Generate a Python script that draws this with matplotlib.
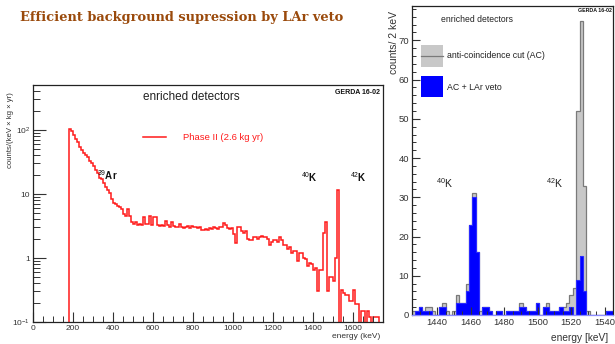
import numpy as np
import matplotlib
matplotlib.use("Agg")
import matplotlib.pyplot as plt
from matplotlib.lines import Line2D
from matplotlib.patches import Rectangle
from matplotlib.ticker import FixedLocator, MultipleLocator, LogLocator, NullFormatter

plt.rcParams['font.family'] = ['Liberation Sans', 'DejaVu Sans']
plt.rcParams['mathtext.fontset'] = 'custom'
plt.rcParams['mathtext.rm'] = 'Liberation Sans'
plt.rcParams['mathtext.it'] = 'Liberation Sans:italic'
plt.rcParams['mathtext.bf'] = 'Liberation Sans:bold'

# ---- Phase II spectrum: rate per 10 keV bin, starting at 180 keV ----
phase2_start = 180
phase2_width = 10
phase2_rate = [
    104, 95, 85, 72, 64, 55, 49, 44, 41, 38,          # 180-270
    33, 30, 27, 24, 21, 18, 17, 15, 13, 11.7,         # 280-370
    10.5, 8.5, 7.2, 7.0, 6.6, 6.2, 5.8, 4.8, 4.6, 5.8,  # 380-470
    4.5, 3.6, 3.4, 3.6, 3.3, 3.4, 3.3, 4.3, 3.4, 3.4,   # 480-570
    4.6, 3.3, 4.4, 4.4, 3.3, 3.2, 3.3, 3.2, 3.8, 3.3,   # 580-670
    3.1, 3.6, 3.2, 3.1, 3.0, 3.4, 3.0, 2.9, 3.1, 3.2,   # 680-770
    2.9, 3.2, 3.0, 3.1, 2.9, 3.0, 2.7, 2.7, 2.8, 2.7,   # 780-870
    2.9, 2.8, 3.0, 2.9, 2.8, 3.0, 3.1, 3.5, 3.3, 2.9,   # 880-970
    2.8, 2.9, 2.4, 1.7, 3.0, 3.0, 2.6, 2.5, 2.6, 2.0,   # 980-1070
    1.9, 1.9, 2.1, 2.1, 2.0, 2.1, 2.2, 2.1, 2.1, 2.0,   # 1080-1170
    1.6, 1.8, 1.9, 1.9, 1.8, 2.1, 1.9, 1.6, 1.6, 1.4,   # 1180-1270
    1.5, 1.2, 1.3, 1.3, 0.9, 1.2, 1.2, 1.0, 0.95, 0.75,  # 1280-1370
    0.85, 0.8, 0.65, 0.7, 0.3, 0.66, 0.66, 2.5, 3.6, 0.3,  # 1380-1470
    0.5, 0.5, 0.43, 1.0, 11.7, 0, 0.32, 0.28, 0.26, 0.26,  # 1480-1570
    0.21, 0.21, 0.32, 0.19, 0.19, 0, 0.15, 0.15, 0, 0.15,  # 1580-1670
    0.12, 0, 0.12, 0.12, 0.12, 0,                          # 1680-1730
]

# ---- 40K / 42K region: counts per 2 keV bin, starting at 1425 keV ----
roi_start = 1425
roi_width = 2
ac_counts = [
    1, 1, 2, 1, 2, 2, 1, 0, 2, 3,        # 1425-1443
    1, 0, 1, 5, 3, 3, 8, 23, 31, 16,     # 1445-1463
    1, 2, 2, 1, 0, 1, 1, 0, 1, 1,        # 1465-1483
    1, 1, 3, 2, 1, 1, 1, 3, 0, 2,        # 1485-1503
    3, 1, 1, 1, 2, 2, 3, 5, 7, 52,       # 1505-1523
    75, 33, 1, 0, 0, 0, 0, 0, 1, 1,      # 1525-1543
]
lar_counts = [
    0, 1, 2, 1, 1, 1, 0, 0, 2, 2,
    0, 0, 0, 3, 3, 3, 6, 23, 30, 16,
    0, 2, 2, 1, 0, 1, 1, 0, 1, 1,
    1, 1, 2, 2, 1, 1, 1, 3, 0, 2,
    2, 1, 1, 1, 2, 1, 1, 2, 0, 9,
    15, 6, 0, 0, 0, 0, 0, 0, 1, 1,
]

W, H = 615, 344
fig = plt.figure(figsize=(W / 100, H / 100), dpi=100)
fig.patch.set_facecolor('white')


def fx(px):
    return px / W


def fy(py):
    return 1 - py / H


title_color = '#9a4a0c'
fig.text(fx(20), fy(17), "Efficient background supression by LAr veto",
         family='DejaVu Serif', fontweight='bold', fontsize=9.4,
         color=title_color, va='center', ha='left')

# ================= left: full Phase II spectrum =================
axL = fig.add_axes([fx(33), fy(322), fx(382.5) - fx(33), fy(85) - fy(322)])
edgesL = np.concatenate([[0], phase2_start + phase2_width * np.arange(len(phase2_rate) + 1)])
valsL = np.concatenate([[0], phase2_rate])
axL.set_yscale('log', nonpositive='clip')
axL.stairs(valsL, edgesL, baseline=None, color='#ff1a1a', lw=1.1)
axL.set_xlim(0, 1750)
axL.set_ylim(0.1, 505)

axL.xaxis.set_major_locator(MultipleLocator(200))
axL.xaxis.set_minor_locator(MultipleLocator(50))
axL.yaxis.set_major_locator(FixedLocator([0.1, 1, 10, 100]))
axL.yaxis.set_minor_locator(LogLocator(base=10, subs=np.arange(2, 10)))
axL.yaxis.set_minor_formatter(NullFormatter())
axL.set_yticklabels(['10$^{-1}$', '1', '10', '10$^{2}$'])
axL.tick_params(which='both', direction='in', top=False, right=False,
                labelsize=6, color='#333333', labelcolor='#333333', pad=2)
axL.tick_params(which='major', length=7, width=0.8)
axL.tick_params(which='minor', length=4, width=0.7)
axL.tick_params(axis='y', which='major', length=9)
axL.tick_params(axis='y', which='minor', length=5)
for s in axL.spines.values():
    s.set_linewidth(0.9)
    s.set_color('#222222')

fig.text(fx(10), fy(130), "counts/(keV × kg × yr)", rotation=90,
         fontsize=5.6, ha='center', va='center', color='#333333')
fig.text(fx(380), fy(337), "energy (keV)", fontsize=6, ha='right',
         va='center', color='#333333')
fig.text(fx(143), fy(97), "enriched detectors", fontsize=8.5, ha='left',
         va='center', color='#222222')
fig.text(fx(380), fy(93), "GERDA 16-02", fontsize=5, fontweight='bold',
         ha='right', va='center', color='#111111')
fig.add_artist(Line2D([fx(143), fx(166)], [fy(137), fy(137)], color='#ff1a1a', lw=1.1))
fig.text(fx(183), fy(137), "Phase II (2.6 kg yr)", fontsize=6.8, ha='left',
         va='center', color='#ff1a1a')
fig.text(fx(97), fy(175), r"$^{39}$Ar", fontsize=7, fontweight='bold',
         ha='left', va='center', color='#111111')
fig.text(fx(301), fy(177), r"$^{40}$K", fontsize=7, fontweight='bold',
         ha='left', va='center', color='#111111')
fig.text(fx(350), fy(177), r"$^{42}$K", fontsize=7, fontweight='bold',
         ha='left', va='center', color='#111111')

# ================= right: zoom on the potassium lines =================
axR = fig.add_axes([fx(412), fy(315), fx(613) - fx(412), fy(6) - fy(315)])
edgesR = roi_start + roi_width * np.arange(len(ac_counts) + 1)
axR.stairs(ac_counts, edgesR, fill=True, color='#c8c8c8', lw=0)
axR.stairs(ac_counts, edgesR, baseline=0, color='#7a7a7a', lw=0.9)
axR.stairs(lar_counts, edgesR, fill=True, color='#0000ff', lw=0)
axR.stairs(lar_counts, edgesR, baseline=None, color='#2a2aff', lw=0.8)
axR.set_xlim(1425, 1545)
axR.set_ylim(0, 78.75)

axR.xaxis.set_major_locator(MultipleLocator(20))
axR.xaxis.set_minor_locator(MultipleLocator(5))
axR.yaxis.set_major_locator(MultipleLocator(10))
axR.yaxis.set_minor_locator(MultipleLocator(2))
axR.tick_params(which='both', direction='in', top=False, right=False,
                labelsize=6.8, color='#333333', labelcolor='#333333', pad=2)
axR.tick_params(which='major', length=6, width=0.8)
axR.tick_params(which='minor', length=3, width=0.7)
for s in axR.spines.values():
    s.set_linewidth(0.9)
    s.set_color('#222222')
axR.spines['bottom'].set_color('#8c8cff')

fig.text(fx(394), fy(43), "counts/ 2 keV", rotation=90, fontsize=7.5,
         ha='center', va='center', color='#333333')
fig.text(fx(608), fy(338), "energy [keV]", fontsize=7.3, ha='right',
         va='center', color='#333333')
fig.text(fx(441), fy(20), "enriched detectors", fontsize=6.2, ha='left',
         va='center', color='#222222')
fig.text(fx(612), fy(11), "GERDA 16-02", fontsize=3.8, fontweight='bold',
         ha='right', va='center', color='#111111')

fig.add_artist(Rectangle((fx(421), fy(67)), fx(443) - fx(421), fy(45) - fy(67),
                         facecolor='#c8c8c8', edgecolor='none'))
fig.add_artist(Line2D([fx(421), fx(443)], [fy(56), fy(56)], color='#7a7a7a', lw=0.9))
fig.text(fx(447), fy(56), "anti-coincidence cut (AC)", fontsize=6.3,
         ha='left', va='center', color='#222222')
fig.add_artist(Rectangle((fx(421), fy(97)), fx(443) - fx(421), fy(76) - fy(97),
                         facecolor='#0000ff', edgecolor='none'))
fig.text(fx(447), fy(87), "AC + LAr veto", fontsize=6.3,
         ha='left', va='center', color='#222222')
fig.text(fx(436), fy(183), r"$^{40}$K", fontsize=7.5, ha='left',
         va='center', color='#222222')
fig.text(fx(546), fy(183), r"$^{42}$K", fontsize=7.5, ha='left',
         va='center', color='#222222')

fig.savefig("out.png", dpi=100)
